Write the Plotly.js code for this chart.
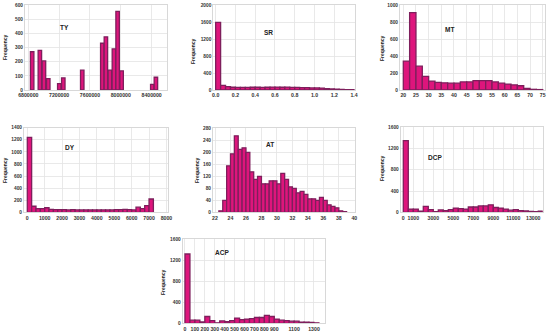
<!DOCTYPE html>
<html><head><meta charset="utf-8">
<script src="https://cdn.plot.ly/plotly-3.0.1.min.js"></script>
<style>html,body{margin:0;padding:0;background:#fff}#c{width:550px;height:336px}</style>
</head><body><div id="c"></div>
<script>
// ---- Data ----
// TY: bar centres and counts
const tyX = [6850000, 6950000, 7003000, 7059000, 7202000, 7254000, 7500000, 7760000, 7807000, 7859000, 7911000, 7959000, 8011000, 8409000, 8456000];
const tyY = [270, 280, 205, 80, 45, 85, 140, 330, 375, 140, 290, 555, 135, 40, 90];
const tyWidth = 45000;

// SR: bins of 0.05 starting at 0
const srStart = 0, srBin = 0.05;
const srY = [1590, 110, 80, 65, 60, 60, 60, 65, 65, 60, 65, 70, 70, 65, 70, 60, 60, 55, 55, 50, 50, 45, 30, 25, 20, 15, 10, 10];

// MT: bins of 2.5 starting at 20
const mtStart = 20, mtBin = 2.5;
const mtY = [340, 910, 280, 160, 105, 90, 85, 80, 80, 95, 95, 110, 110, 110, 95, 80, 70, 60, 50, 20, 8, 5];

// DY: bins of 250 starting at 0
const dyStart = 0, dyBin = 250;
const dyY = [1240, 100, 60, 60, 75, 50, 45, 45, 45, 40, 45, 40, 40, 40, 40, 40, 40, 40, 40, 40, 45, 45, 50, 45, 40, 85, 60, 110, 220];

// AT: bins of 0.5 starting at 22.5
const atStart = 22.5, atBin = 0.5;
const atY = [5, 40, 155, 195, 255, 210, 215, 200, 135, 110, 120, 95, 95, 105, 105, 95, 130, 110, 85, 80, 65, 70, 60, 45, 45, 40, 50, 40, 25, 20, 15, 5, 2];

// DCP: bins of 500 starting at 0
const dcpStart = 0, dcpBin = 500;
const dcpY = [1350, 60, 60, 20, 110, 50, 10, 45, 30, 50, 80, 70, 60, 100, 100, 120, 120, 140, 90, 80, 60, 40, 50, 30, 25, 15, 10, 20];

// ACP: bins of 50 starting at 0
const acpStart = 0, acpBin = 50;
const acpY = [1320, 60, 60, 25, 130, 50, 10, 45, 30, 50, 100, 70, 80, 90, 110, 110, 150, 130, 80, 60, 50, 40, 40, 20, 20, 15, 10];

// Tick labels
const tyTicks = [6800000, 7200000, 7600000, 8000000, 8400000];
const srTicks = [0, 0.2, 0.4, 0.6, 0.8, 1.0, 1.2, 1.4];
const mtTicks = [20, 25, 30, 35, 40, 45, 50, 55, 60, 65, 70, 75];
const dyTicks = [0, 1000, 2000, 3000, 4000, 5000, 6000, 7000, 8000];
const atTicks = [22, 24, 26, 28, 30, 32, 34, 36, 38, 40];
const dcpTicks = [0, 1000, 2000, 3000, 4000, 5000, 6000, 7000, 8000, 9000, 10000, 11000, 12000, 13000];
const dcpLabels = ["0", "1000", "", "3000", "", "5000", "", "7000", "", "9000", "", "11000", "", "13000"];
const acpTicks = [0, 100, 200, 300, 400, 500, 600, 700, 800, 900, 1000, 1100, 1200, 1300];
const acpLabels = ["0", "100", "200", "300", "400", "500", "600", "700", "800", "900", "", "1100", "", "1300"];
const panelNames = ["TY", "SR", "MT", "DY", "AT", "DCP", "ACP"];

// ---- Build ----
const fill = '#de157c', edge = '#7e1f5c';
function centers(start, bin, n) { const a = []; for (let i = 0; i < n; i++) a.push(start + bin * (i + 0.5)); return a; }
function bar(x, y, w, k) {
  return { type: 'bar', x: x, y: y, width: w, xaxis: 'x' + (k === 1 ? '' : k), yaxis: 'y' + (k === 1 ? '' : k),
    marker: { color: fill, line: { color: edge, width: 1.3 } }, showlegend: false, hoverinfo: 'x+y' };
}
const traces = [
  bar(tyX, tyY, tyWidth, 1),
  bar(centers(srStart, srBin, srY.length), srY, srBin, 2),
  bar(centers(mtStart, mtBin, mtY.length), mtY, mtBin, 3),
  bar(centers(dyStart, dyBin, dyY.length), dyY, dyBin, 4),
  bar(centers(atStart, atBin, atY.length), atY, atBin, 5),
  bar(centers(dcpStart, dcpBin, dcpY.length), dcpY, dcpBin, 6),
  bar(centers(acpStart, acpBin, acpY.length), acpY, acpBin, 7)
];

const W = 550, H = 336;
const fx = p => p / W, fy = p => 1 - p / H;
const tickFontX = { family: 'Liberation Sans, Arial, sans-serif', size: 5.2, color: '#333', weight: 'bold' };
const tickFontY = { family: 'Liberation Sans, Arial, sans-serif', size: 4.8, color: '#333', weight: 'bold' };
function xa(l, r, range, vals, text) {
  const o = { domain: [fx(l), fx(r)], range: range, tickmode: 'array', tickvals: vals, showgrid: true, gridcolor: '#e3e3e3', gridwidth: 0.8,
    zeroline: false, showline: true, linecolor: '#d8d8d8', mirror: true, ticks: '', tickangle: 0, tickfont: tickFontX, fixedrange: true };
  if (text) o.ticktext = text;
  return o;
}
function ya(t, b, max, dt, anchor) {
  return { domain: [fy(b), fy(t)], range: [0, max], dtick: dt, tick0: 0, showgrid: true, gridcolor: '#e3e3e3', gridwidth: 0.8,
    zeroline: false, showline: true, linecolor: '#d8d8d8', mirror: true, ticks: '', tickangle: 0, tickfont: tickFontY, fixedrange: true, anchor: anchor };
}
const layout = {
  width: W, height: H, margin: { l: 0, r: 0, t: 0, b: 0 }, paper_bgcolor: '#fff', plot_bgcolor: '#fff',
  bargap: 0, showlegend: false,
  xaxis: Object.assign(xa(25, 167, [6757000, 8600000], tyTicks, tyTicks.map(String)), { anchor: 'y' }),
  yaxis: ya(5, 90, 600, 100, 'x'),
  xaxis2: Object.assign(xa(213.3, 355, [-0.024, 1.41], srTicks, srTicks.map(v => v.toFixed(1))), { anchor: 'y2' }),
  yaxis2: ya(5, 90, 2000, 400, 'x2'),
  xaxis3: Object.assign(xa(400, 545, [18.7, 75.9], mtTicks), { anchor: 'y3' }),
  yaxis3: ya(5, 90, 1000, 200, 'x3'),
  xaxis4: Object.assign(xa(24, 168, [-190, 8090], dyTicks), { anchor: 'y4' }),
  yaxis4: ya(127.7, 212.3, 1400, 200, 'x4'),
  xaxis5: Object.assign(xa(213, 355, [21.74, 40.09], atTicks), { anchor: 'y5' }),
  yaxis5: ya(128.3, 212.3, 280, 40, 'x5'),
  xaxis6: Object.assign(xa(400.7, 542.7, [-260, 13940], dcpTicks, dcpLabels), { anchor: 'y6' }),
  yaxis6: ya(127.3, 212.3, 1600, 400, 'x6'),
  xaxis7: Object.assign(xa(182.7, 325, [-23, 1411], acpTicks, acpLabels), { anchor: 'y7' }),
  yaxis7: ya(239.3, 323.3, 1600, 400, 'x7'),
  annotations: []
};
// panel name labels
const namePos = [[64, 27], [268, 33], [449, 29], [70, 147], [270, 144], [435, 157], [222, 252]];
panelNames.forEach((n, i) => layout.annotations.push({ text: n, xref: 'paper', yref: 'paper', x: fx(namePos[i][0]), y: fy(namePos[i][1]),
  showarrow: false, xanchor: 'center', yanchor: 'middle', font: { family: 'Liberation Sans, Arial, sans-serif', size: 6.5, color: '#222', weight: 'bold' } }));
// "Frequency" y-axis titles
const freqPos = [[5, 47], [193, 51], [382, 48], [5, 170], [197, 170], [382, 168], [163, 282]];
freqPos.forEach(p => layout.annotations.push({ text: 'Frequency', xref: 'paper', yref: 'paper', x: fx(p[0]), y: fy(p[1]), textangle: -90,
  showarrow: false, xanchor: 'center', yanchor: 'middle', font: { family: 'Liberation Sans, Arial, sans-serif', size: 5, color: '#222', weight: 'bold' } }));

Plotly.newPlot('c', traces, layout, { staticPlot: true, displayModeBar: false });
</script></body></html>
